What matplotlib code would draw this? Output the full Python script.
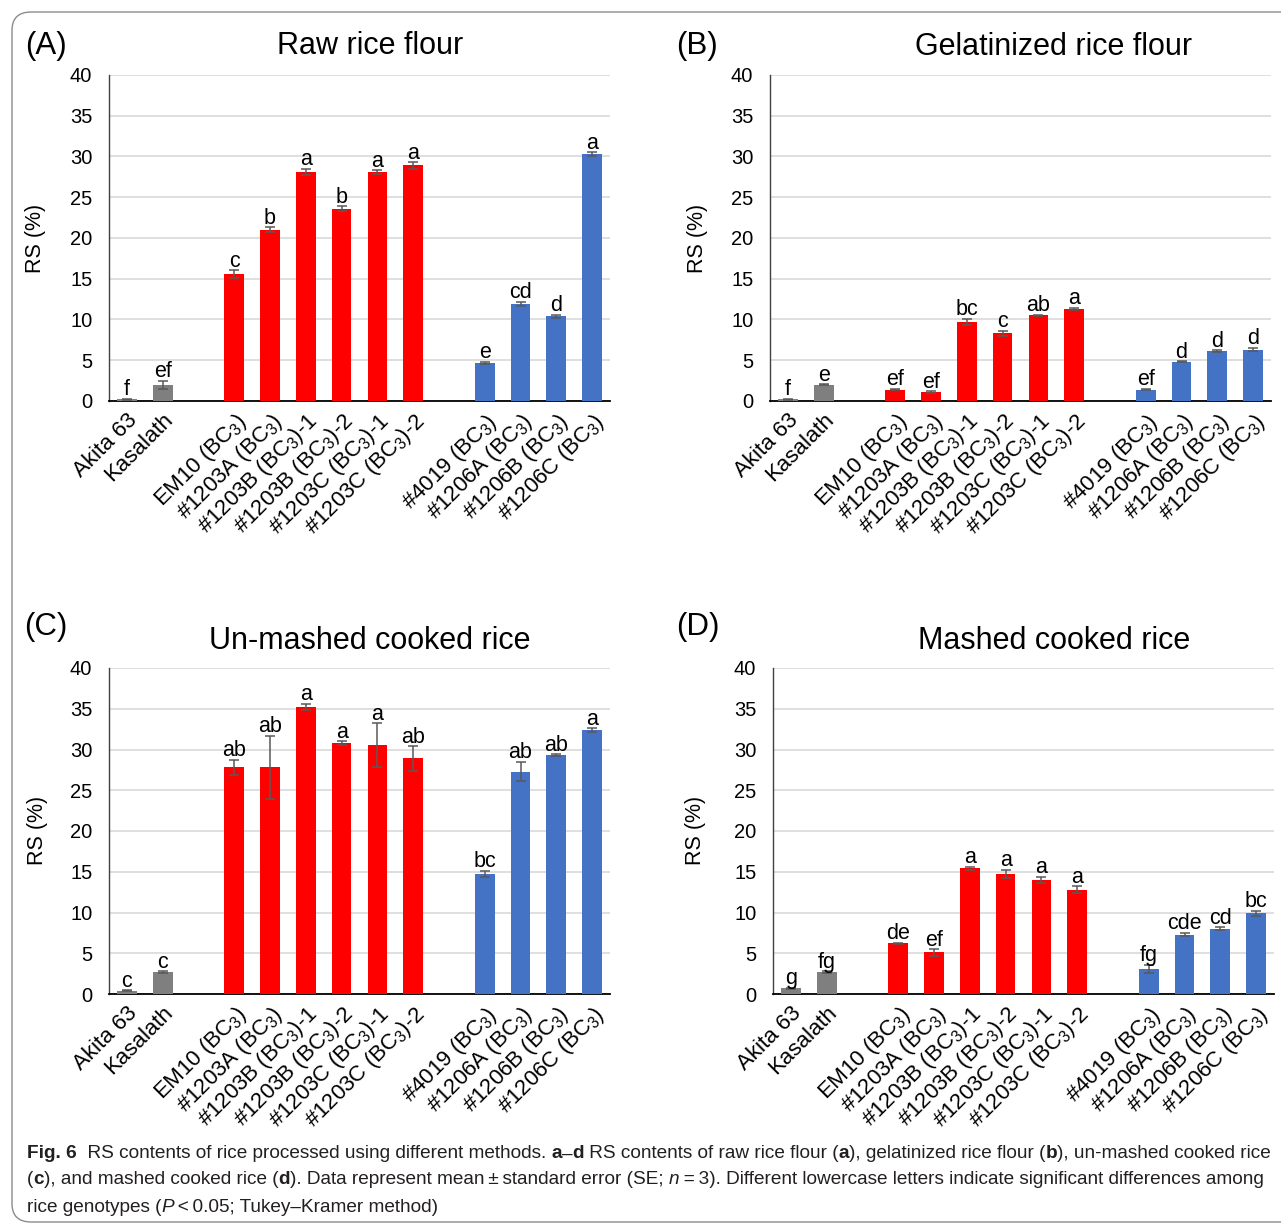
import matplotlib
matplotlib.use("Agg")
import matplotlib.pyplot as plt
from matplotlib.patches import FancyBboxPatch
from matplotlib import font_manager

# ---- data -------------------------------------------------------------
genotypes = ["Akita 63", "Kasalath",
             "EM10 (BC$_3$)", "#1203A (BC$_3$)", "#1203B (BC$_3$)-1",
             "#1203B (BC$_3$)-2", "#1203C (BC$_3$)-1", "#1203C (BC$_3$)-2",
             "#4019 (BC$_3$)", "#1206A (BC$_3$)", "#1206B (BC$_3$)", "#1206C (BC$_3$)"]
groups = ["wt", "wt", "red", "red", "red", "red", "red", "red",
          "blue", "blue", "blue", "blue"]

raw_mean = [0.2, 2.0, 15.6, 21.0, 28.1, 23.6, 28.1, 28.9, 4.7, 11.9, 10.4, 30.3]
raw_se = [0.05, 0.5, 0.45, 0.3, 0.4, 0.3, 0.2, 0.4, 0.1, 0.3, 0.2, 0.2]
raw_letters = ["f", "ef", "c", "b", "a", "b", "a", "a", "e", "cd", "d", "a"]

gel_mean = [0.2, 2.0, 1.4, 1.1, 9.7, 8.3, 10.5, 11.3, 1.4, 4.8, 6.1, 6.3]
gel_se = [0.05, 0.05, 0.1, 0.1, 0.4, 0.3, 0.1, 0.1, 0.1, 0.05, 0.1, 0.2]
gel_letters = ["f", "e", "ef", "ef", "bc", "c", "ab", "a", "ef", "d", "d", "d"]

unmashed_mean = [0.4, 2.7, 27.8, 27.8, 35.2, 30.8, 30.5, 28.9, 14.7, 27.3, 29.3, 32.4]
unmashed_se = [0.05, 0.1, 0.9, 3.9, 0.4, 0.2, 2.7, 1.5, 0.4, 1.2, 0.1, 0.2]
unmashed_letters = ["c", "c", "ab", "ab", "a", "a", "a", "ab", "bc", "ab", "ab", "a"]

mashed_mean = [0.7, 2.7, 6.2, 5.1, 15.4, 14.7, 14.0, 12.8, 3.1, 7.3, 8.0, 9.9]
mashed_se = [0.05, 0.1, 0.1, 0.4, 0.2, 0.5, 0.4, 0.4, 0.5, 0.2, 0.2, 0.3]
mashed_letters = ["g", "fg", "de", "ef", "a", "a", "a", "a", "fg", "cde", "cd", "bc"]

group_colors = {"wt": "#7f7f7f", "red": "#ff0000", "blue": "#4472c4"}

# bar positions: one empty slot between groups
x = []
pos = 0
for i, g in enumerate(groups):
    if i > 0 and g != groups[i - 1]:
        pos += 1
    x.append(pos)
    pos += 1

plt.rcParams['font.family'] = ['Liberation Sans', 'DejaVu Sans']
plt.rcParams['mathtext.default'] = 'regular'

W, H = 1281, 1225
fig = plt.figure(figsize=(W / 100, H / 100), dpi=100)


def px(xp, yp):
    return xp / W, 1 - yp / H


# outer rounded frame
frame = FancyBboxPatch(px(12, 1222), 1400 / W, 1210 / H,
                       boxstyle="round,pad=0,rounding_size=0.015",
                       transform=fig.transFigure, fill=False,
                       edgecolor="#8c8c8c", lw=1.0)
fig.patches.append(frame)


def draw_panel(rect, means, ses, letters):
    ax = fig.add_axes(rect)
    cols = [group_colors[g] for g in groups]
    ax.bar(x, means, width=0.55, color=cols, zorder=3)
    ax.errorbar(x, means, yerr=ses, fmt='none', ecolor='#595959',
                elinewidth=1.1, capsize=3.5, capthick=1.1, zorder=4)
    for xi, m, s, lab in zip(x, means, ses, letters):
        ax.text(xi, m + s + 0.45, lab, ha='center', va='baseline',
                fontsize=15.5, color='black', zorder=5)
    ax.set_ylim(0, 40)
    ax.set_yticks(range(0, 41, 5))
    ax.set_xlim(-0.5, 13.5)
    ax.yaxis.grid(True, color='#d9d9d9', lw=1.2)
    ax.set_axisbelow(True)
    for s in ['top', 'right']:
        ax.spines[s].set_visible(False)
    ax.spines['left'].set_color('#404040')
    ax.spines['left'].set_linewidth(1.0)
    ax.spines['bottom'].set_color('black')
    ax.spines['bottom'].set_linewidth(1.3)
    ax.set_xticks(x)
    ax.set_xticklabels(genotypes, rotation=45, ha='right',
                       rotation_mode='anchor', fontsize=16)
    ax.tick_params(axis='y', length=0, pad=12, labelsize=14.5)
    ax.tick_params(axis='x', length=0, pad=6)
    return ax


axw = 501 / W
axh = 326 / H
draw_panel([109 / W, 1 - 401 / H, axw, axh], raw_mean, raw_se, raw_letters)
draw_panel([770 / W, 1 - 401 / H, axw, axh], gel_mean, gel_se, gel_letters)
draw_panel([109 / W, 1 - 994 / H, axw, axh], unmashed_mean, unmashed_se, unmashed_letters)
draw_panel([773 / W, 1 - 994 / H, axw, axh], mashed_mean, mashed_se, mashed_letters)

# titles, tags, y labels
titles = [("Raw rice flour", 370, 46), ("Gelatinized rice flour", 1054, 47),
          ("Un-mashed cooked rice", 370, 641), ("Mashed cooked rice", 1054, 641)]
for t, tx, ty in titles:
    fig.text(*px(tx, ty), t, ha='center', va='center', fontsize=22)
for t, tx, ty in [("(A)", 46, 46), ("(B)", 697, 46), ("(C)", 46, 627), ("(D)", 698, 627)]:
    fig.text(*px(tx, ty), t, ha='center', va='center', fontsize=22.5)
for tx, ty in [(36, 238), (697, 238), (38, 830), (695, 830)]:
    fig.text(*px(tx, ty), "RS (%)", ha='center', va='center', rotation=90, fontsize=15.5)

# caption, drawn piece by piece to mix bold/italic
names = {f.name for f in font_manager.fontManager.ttflist}
cap_font = 'Liberation Sans Narrow' if 'Liberation Sans Narrow' in names else 'Liberation Sans'
renderer = fig.canvas.get_renderer()

lines = [
    [("Fig. 6", "bold", "normal"), ("  RS contents of rice processed using different methods. ", "normal", "normal"),
     ("a", "bold", "normal"), ("–", "normal", "normal"), ("d", "bold", "normal"),
     (" RS contents of raw rice flour (", "normal", "normal"), ("a", "bold", "normal"),
     ("), gelatinized rice flour (", "normal", "normal"), ("b", "bold", "normal"),
     ("), un-mashed cooked rice", "normal", "normal")],
    [("(", "normal", "normal"), ("c", "bold", "normal"), ("), and mashed cooked rice (", "normal", "normal"),
     ("d", "bold", "normal"), ("). Data represent mean\u2009±\u2009standard error (SE; ", "normal", "normal"),
     ("n", "normal", "italic"), ("\u2009=\u20093). Different lowercase letters indicate significant differences among", "normal", "normal")],
    [("rice genotypes (", "normal", "normal"), ("P", "normal", "italic"),
     ("\u2009<\u20090.05; Tukey–Kramer method)", "normal", "normal")],
]


def draw_line(segs, y, size):
    xs = 27
    arts = []
    for txt, wt, st in segs:
        a = fig.text(xs / W, 1 - y / H, txt, fontsize=size, fontweight=wt, fontstyle=st,
                     family=[cap_font, 'DejaVu Sans'], color='#231f20', ha='left', va='center')
        bb = a.get_window_extent(renderer=renderer)
        xs += bb.width
        arts.append(a)
    return xs - 27, arts


# scale the caption so that the first line spans the frame width
wid, arts = draw_line(lines[0], 1154, 12)
for a in arts:
    a.remove()
cap_size = 12 * 1248 / wid
for segs, yy in zip(lines, [1154, 1180, 1207]):
    draw_line(segs, yy, cap_size)

fig.savefig("out.png", dpi=100)
